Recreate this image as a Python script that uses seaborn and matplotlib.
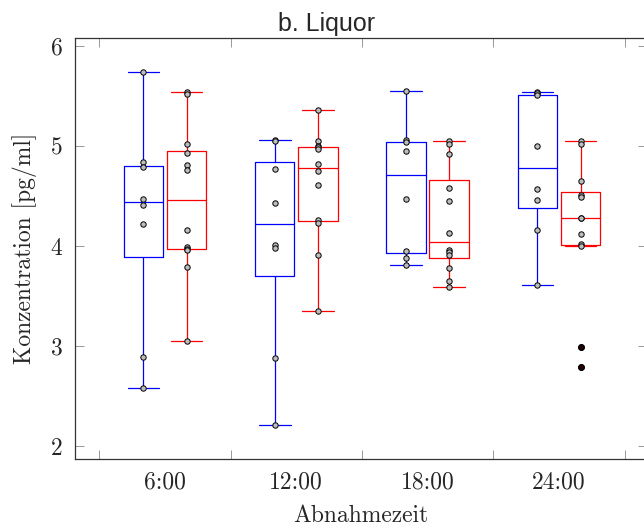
"""
Liquor concentration by sampling time, two groups side by side (boxplots + raw points).
"""

import pandas as pd
import matplotlib.pyplot as plt
from matplotlib.ticker import FixedLocator
import seaborn as sns

# ===== DATA =====
times = ["6:00", "12:00", "18:00", "24:00"]
groups = ["A", "B"]  # A = blue, B = red

# values [pg/ml]
blue_6 = [5.74, 4.84, 4.79, 4.47, 4.41, 4.22, 2.89, 2.58]
blue_12 = [5.06, 5.05, 4.77, 4.43, 4.01, 3.98, 2.88, 2.21]
blue_18 = [5.55, 5.06, 5.04, 4.95, 4.47, 3.95, 3.88, 3.81]
blue_24 = [5.54, 5.53, 5.51, 5.00, 4.57, 4.46, 4.16, 3.61]

red_6 = [5.54, 5.52, 5.02, 4.93, 4.81, 4.76, 4.16, 3.99, 3.97, 3.96, 3.79, 3.05]
red_12 = [5.36, 5.05, 5.00, 4.99, 4.97, 4.82, 4.75, 4.61, 4.26, 4.23, 3.91, 3.35]
red_18 = [5.05, 5.02, 4.92, 4.58, 4.45, 4.13, 3.96, 3.94, 3.91, 3.78, 3.65, 3.59]
red_24 = [5.05, 5.02, 4.65, 4.51, 4.49, 4.28, 4.28, 4.12, 4.02, 4.00, 2.99, 2.79]

blue_vals = [blue_6, blue_12, blue_18, blue_24]
red_vals = [red_6, red_12, red_18, red_24]

colors = {"A": "#0000ff", "B": "#ff0000"}

# long format table
rows = []
for t, vb, vr in zip(times, blue_vals, red_vals):
    rows += [(t, "A", v) for v in vb]
    rows += [(t, "B", v) for v in vr]
df = pd.DataFrame(rows, columns=["time", "group", "value"])

# dodge width of one box pair (points sit on box centres)
PAIR_W = 0.656
df["pos"] = df["time"].map({t: i for i, t in enumerate(times)}) + df["group"].map(
    {"A": -PAIR_W / 4, "B": PAIR_W / 4}
)

# ===== STYLE =====
sns.set_style("ticks")
plt.rcParams["font.family"] = "serif"
plt.rcParams["font.serif"] = ["cmr10", "DejaVu Serif"]
plt.rcParams["mathtext.fontset"] = "cm"
plt.rcParams["axes.unicode_minus"] = False
plt.rcParams["axes.formatter.use_mathtext"] = True

fig = plt.figure(figsize=(6.44, 5.31), dpi=100)
ax = fig.add_axes([75 / 644, 72 / 531, (647 - 75) / 644, (459 - 38) / 531])

sns.boxplot(
    data=df,
    x="time",
    y="value",
    hue="group",
    order=times,
    hue_order=groups,
    palette=colors,
    fill=False,
    width=PAIR_W,
    gap=0.085,
    linewidth=0.9,
    fliersize=4,
    capwidths=0.24,
    flierprops=dict(
        marker="o", markerfacecolor="#2a0000", markeredgecolor="black", zorder=4
    ),
    legend=False,
    ax=ax,
)

sns.scatterplot(
    data=df,
    x="pos",
    y="value",
    color="#bdbdbd",
    edgecolor="black",
    linewidth=0.7,
    s=15,
    zorder=3,
    legend=False,
    ax=ax,
)

# ===== AXES =====
ax.set_xlim(-0.685, 3.67)
ax.set_ylim(1.87, 6.08)

ax.xaxis.set_major_locator(FixedLocator(range(len(times))))
ax.set_xticklabels(times)
ax.xaxis.set_minor_locator(FixedLocator([i - 0.5 for i in range(len(times) + 1)]))
ax.set_yticks([2, 3, 4, 5, 6])
ax.set_yticklabels(["2", "3", "4", "5", "6"])

ax.tick_params(axis="x", which="major", length=0, pad=9, labelsize=17)
ax.tick_params(
    axis="x", which="minor", direction="in", length=6.5, width=0.6,
    color="#888888", top=True, bottom=True,
)
ax.tick_params(
    axis="y", which="major", direction="in", length=6.5, width=0.6,
    color="#888888", left=True, right=True, pad=9, labelsize=17,
)

for sp in ax.spines.values():
    sp.set_visible(True)
    sp.set_color("#333333")
    sp.set_linewidth(0.9)

ax.set_xlabel("Abnahmezeit", fontsize=17, labelpad=8)
ax.set_ylabel("Konzentration [pg/ml]", fontsize=17, labelpad=10)

# title sits over the figure (not the axes) centre
fig.text(
    327 / 644, (531 - 31) / 531, "b. Liquor",
    family="Liberation Sans", fontsize=18, ha="center", va="baseline",
)

plt.savefig("out.png", dpi=100, facecolor="white")
